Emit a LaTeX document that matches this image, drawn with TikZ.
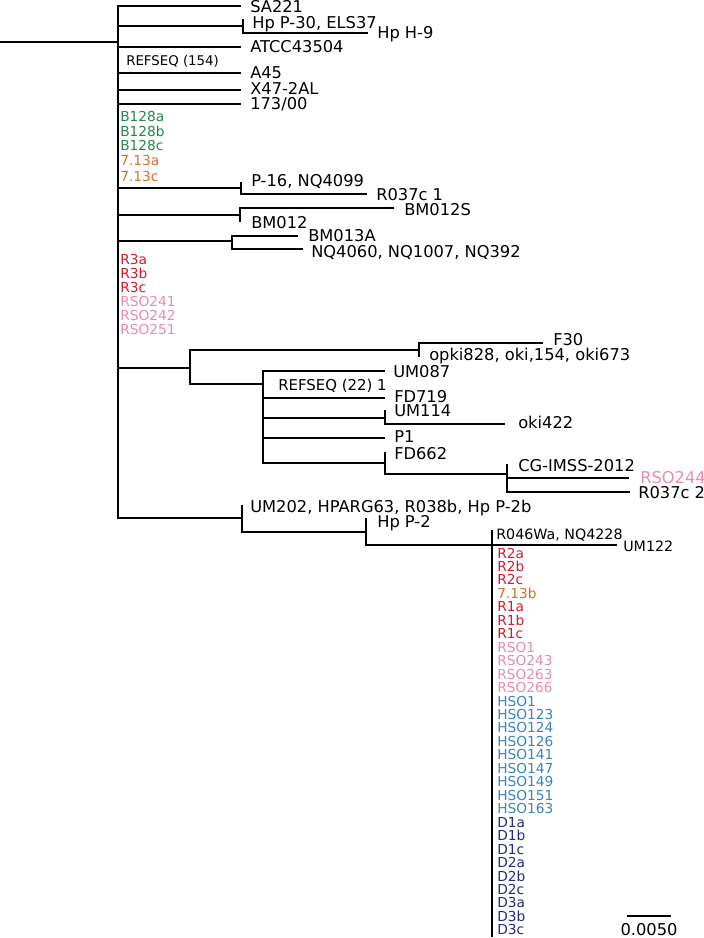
\documentclass[tikz,border=0pt]{standalone}
\usepackage{fontspec}
\setmainfont{DejaVu Sans}
\definecolor{cgreen}{RGB}{35,135,75}
\definecolor{corange}{RGB}{215,110,45}
\definecolor{cred}{RGB}{205,30,45}
\definecolor{cpink}{RGB}{232,140,175}
\definecolor{cblue}{RGB}{60,130,190}
\definecolor{cnavy}{RGB}{40,40,125}
\tikzset{
  br/.style={line width=1.5pt, line join=miter},
  lab/.style={anchor=base west, inner sep=0pt, yshift=-4.45pt, font=\fontsize{12.2}{14}\selectfont},
  clab/.style={anchor=base west, inner sep=0pt, yshift=-3.75pt, font=\fontsize{10.3}{12}\selectfont},
  slab/.style={anchor=base west, inner sep=0pt, yshift=-3.9pt, font=\fontsize{10.7}{12}\selectfont},
}
\begin{document}
\begin{tikzpicture}[x=0.75pt,y=-0.75pt]
\useasboundingbox (0,0) rectangle (703,938);
\fill[white] (0,0) rectangle (703,938);
% tree vertices
\coordinate (root) at (0,42);
\coordinate (n0) at (118,42);
\coordinate (lSA) at (241,6);
\coordinate (nHP) at (243,26);
\coordinate (lHP30) at (243,19);
\coordinate (lHH9) at (368,33);
\coordinate (lATCC) at (241,47);
\coordinate (lA45) at (241,73);
\coordinate (lX47) at (241,90);
\coordinate (l173) at (241,104);
\coordinate (nP16) at (241,188);
\coordinate (lP16) at (241,182);
\coordinate (lR037a) at (367,194);
\coordinate (nBM) at (240,215);
\coordinate (lBM012S) at (394,208);
\coordinate (lBM012) at (240,222);
\coordinate (nBM13) at (232,241);
\coordinate (lBM013A) at (298,236);
\coordinate (lNQ) at (303,249);
\coordinate (nF) at (190,368);
\coordinate (nF1) at (419,350);
\coordinate (lF30) at (543,343);
\coordinate (lopki) at (419,357);
\coordinate (nR22) at (263,384);
\coordinate (lUM087) at (385,371);
\coordinate (lFD719) at (385,398);
\coordinate (nUM114) at (385,418);
\coordinate (lUM114) at (385,410);
\coordinate (loki) at (505,424);
\coordinate (lP1) at (385,438);
\coordinate (nFD) at (385,463);
\coordinate (lFD) at (385,452);
\coordinate (nCG) at (507,474);
\coordinate (lCG) at (507,464);
\coordinate (lRSO244) at (629,478);
\coordinate (lR037b) at (630,492);
\coordinate (nUM202) at (242,518);
\coordinate (lUM202) at (242,505);
\coordinate (nHP2) at (366,532);
\coordinate (lHP2) at (366,518);
\coordinate (nR046) at (492,545);
\coordinate (lR046) at (492,530);
\coordinate (lUM122) at (617,545);
\coordinate (lbot) at (492,937);
% edges
\draw[br] (root) -- (n0);
\foreach \c in {lSA,nHP,lATCC,lA45,lX47,l173,nP16,nBM,nBM13,nF,nUM202}
  \draw[br] (n0) |- (\c);
\foreach \c in {lHP30,lHH9} \draw[br] (nHP) |- (\c);
\foreach \c in {lP16,lR037a} \draw[br] (nP16) |- (\c);
\foreach \c in {lBM012S,lBM012} \draw[br] (nBM) |- (\c);
\foreach \c in {lBM013A,lNQ} \draw[br] (nBM13) |- (\c);
\foreach \c in {nF1,nR22} \draw[br] (nF) |- (\c);
\foreach \c in {lF30,lopki} \draw[br] (nF1) |- (\c);
\foreach \c in {lUM087,lFD719,nUM114,lP1,nFD} \draw[br] (nR22) |- (\c);
\foreach \c in {lUM114,loki} \draw[br] (nUM114) |- (\c);
\foreach \c in {lFD,nCG} \draw[br] (nFD) |- (\c);
\foreach \c in {lCG,lRSO244,lR037b} \draw[br] (nCG) |- (\c);
\foreach \c in {lUM202,nHP2} \draw[br] (nUM202) |- (\c);
\foreach \c in {lHP2,nR046} \draw[br] (nHP2) |- (\c);
\foreach \c in {lR046,lUM122,lbot} \draw[br] (nR046) |- (\c);
% leaf labels
\node[lab] (tSA) at (250,7) {SA221};
\node[lab] (tHP30) at (252,23) {Hp P-30, ELS37};
\node[lab] (tHH9) at (377,33) {Hp H-9};
\node[lab] (tATCC) at (250,47) {ATCC43504};
\node[anchor=base west, inner sep=0pt, yshift=-3.65pt, font=\fontsize{10}{12}\selectfont] (tREF154) at (126,61) {REFSEQ (154)};
\node[lab] (tA45) at (250,73) {A45};
\node[lab] (tX47) at (250,89) {X47-2AL};
\node[lab] (t173) at (250,104) {173/00};
\node[clab,text=cgreen] (tB128a) at (120,117) {B128a};
\node[clab,text=cgreen] (tB128b) at (120,132) {B128b};
\node[clab,text=cgreen] (tB128c) at (120,146) {B128c};
\node[clab,text=corange] (t713a) at (120,161) {7.13a};
\node[clab,text=corange] (t713c) at (120,176) {7.13c};
\node[lab] (tP16) at (251,181) {P-16, NQ4099};
\node[lab] (tR037a) at (376,195) {R037c 1};
\node[lab] (tBM012S) at (404,210) {BM012S};
\node[lab] (tBM012) at (251,223) {BM012};
\node[lab] (tBM013A) at (308,236) {BM013A};
\node[lab] (tNQ) at (311,252) {NQ4060, NQ1007, NQ392};
\node[clab,text=cred] (tR3a) at (120,259) {R3a};
\node[clab,text=cred] (tR3b) at (120,273) {R3b};
\node[clab,text=cred] (tR3c) at (120,287) {R3c};
\node[clab,text=cpink] (tRSO241) at (120,301) {RSO241};
\node[clab,text=cpink] (tRSO242) at (120,315) {RSO242};
\node[clab,text=cpink] (tRSO251) at (120,329) {RSO251};
\node[lab] (tF30) at (553,340) {F30};
\node[lab] (topki) at (429,355) {opki828, oki,154, oki673};
\node[lab] (tUM087) at (393,372) {UM087};
\node[anchor=base west, inner sep=0pt, yshift=-4.08pt, font=\fontsize{11.2}{13}\selectfont] (tREF22) at (278,385) {REFSEQ (22) 1};
\node[lab] (tFD719) at (394,397) {FD719};
\node[lab] (tUM114) at (394,411) {UM114};
\node[lab] (toki) at (518,423) {oki422};
\node[lab] (tP1) at (394,437) {P1};
\node[lab] (tFD) at (394,454) {FD662};
\node[lab] (tCG) at (518,466) {CG-IMSS-2012};
\node[lab,text=cpink] (tRSO244) at (640,478) {RSO244};
\node[lab] (tR037b) at (638,493) {R037c 2};
\node[lab] (tUM202) at (250,507) {UM202, HPARG63, R038b, Hp P-2b};
\node[lab] (tHP2) at (377,522) {Hp P-2};
\node[slab] (tR046) at (496,534) {R046Wa, NQ4228};
\node[slab] (tUM122) at (623,546) {UM122};
% bottom list
\foreach \t/\col [count=\i from 0] in {R2a/cred,R2b/cred,R2c/cred,7.13b/corange,R1a/cred,R1b/cred,R1c/cred,RSO1/cpink,RSO243/cpink,RSO263/cpink,RSO266/cpink,HSO1/cblue,HSO123/cblue,HSO124/cblue,HSO126/cblue,HSO141/cblue,HSO147/cblue,HSO149/cblue,HSO151/cblue,HSO163/cblue,D1a/cnavy,D1b/cnavy,D1c/cnavy,D2a/cnavy,D2b/cnavy,D2c/cnavy,D3a/cnavy,D3b/cnavy,D3c/cnavy}
  \node[clab,text=\col] (b\i) at (497,553+\i*13.46) {\t};
% scale bar
\coordinate (sb1) at (627,916);
\coordinate (sb2) at (671,916);
\draw[br] (sb1) -- (sb2);
\node[inner sep=0pt, font=\fontsize{12.2}{14}\selectfont] (tsb) at (649,930) {0.0050};
\end{tikzpicture}
\end{document}
